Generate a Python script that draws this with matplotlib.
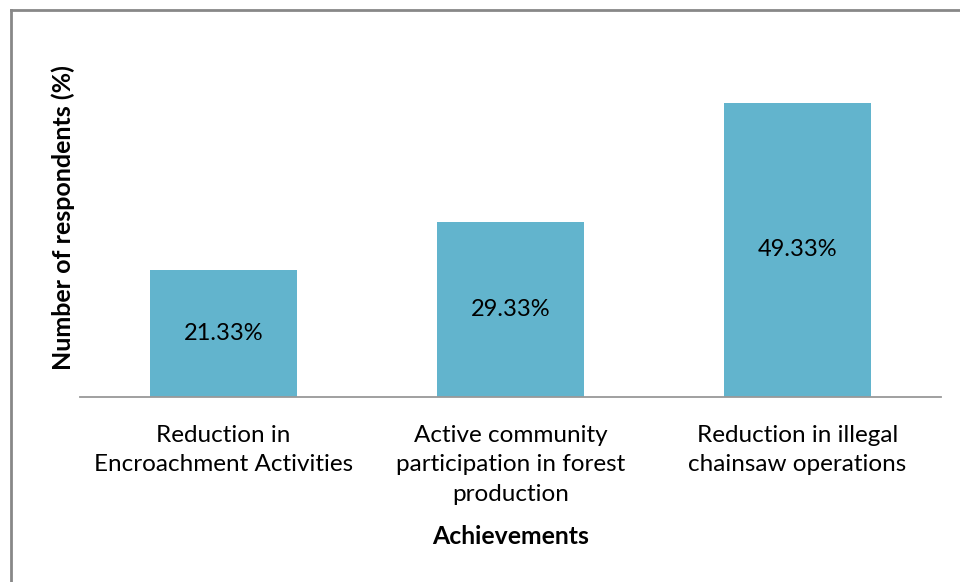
import matplotlib
matplotlib.use("Agg")
import matplotlib.pyplot as plt
from matplotlib.lines import Line2D

categories = ["Reduction in\nEncroachment Activities",
              "Active community\nparticipation in forest\nproduction",
              "Reduction in illegal\nchainsaw operations"]
values = [21.33, 29.33, 49.33]
value_labels = ["21.33%", "29.33%", "49.33%"]

plt.rcParams['font.family'] = ['Lato', 'DejaVu Sans']

W, H = 960, 582
fig = plt.figure(figsize=(W/100, H/100), dpi=100)
ax = fig.add_axes([80/W, (H-397)/H, (941-80)/W, 357.6/H])

x = list(range(len(categories)))
bars = ax.bar(x, values, width=0.512, color='#62B4CD')
for xi, v, lab in zip(x, values, value_labels):
    ax.text(xi, v/2, lab, ha='center', va='center', fontsize=17, color='black')

ax.set_xlim(-0.5, 2.5)
ax.set_ylim(0, 60)
ax.set_yticks([])
ax.set_xticks(x)
ax.set_xticklabels(categories, fontsize=17.5, linespacing=1.5)
ax.tick_params(axis='x', length=0, pad=20)
for s in ['top', 'right', 'left']:
    ax.spines[s].set_visible(False)
ax.spines['bottom'].set_color('#999999')
ax.spines['bottom'].set_linewidth(1.3)

fig.text(63/W, 1-218/H, "Number of respondents (%)", ha='center', va='center',
         rotation=90, fontsize=18, fontweight='bold')
fig.text(511/W, 1-537/H, "Achievements", ha='center', va='center', fontsize=17.8, fontweight='bold')

# outer border (left and top edges visible)
fig.add_artist(Line2D([11/W, 11/W], [0, 1-10/H], transform=fig.transFigure, color='#888888', lw=2))
fig.add_artist(Line2D([11/W, 1], [1-10/H, 1-10/H], transform=fig.transFigure, color='#888888', lw=2))

fig.savefig("out.png", dpi=100)
